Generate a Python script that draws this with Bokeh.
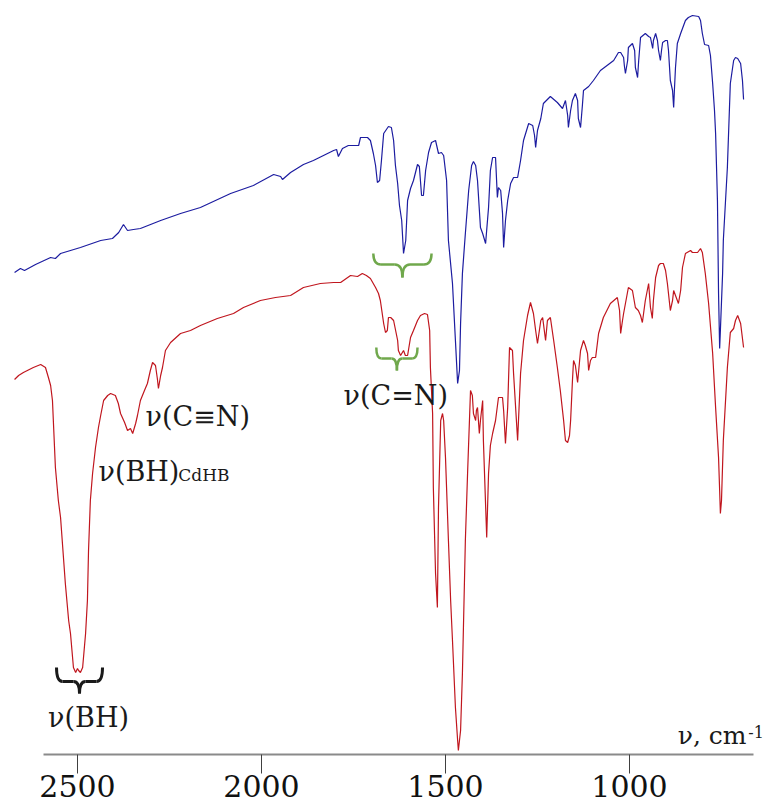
from bokeh.plotting import figure
from bokeh.models import Range1d, LinearAxis, FixedTicker
from bokeh.core.properties import value
from bokeh.embed import file_html
from bokeh.resources import INLINE

# ---- data: IR spectra (wavenumber, cm-1 ; transmittance, arbitrary units) ----
blue_wn = [2671, 2655, 2644, 2614, 2573, 2560, 2546, 2492, 2437, 2405,
           2388, 2375, 2364, 2348, 2329, 2274, 2220, 2166, 2084, 2022,
           1967, 1948, 1943, 1921, 1886, 1859, 1804, 1796, 1791, 1780,
           1764, 1736, 1731, 1712, 1704, 1696, 1690, 1685, 1679, 1674,
           1668, 1655, 1647, 1641, 1636, 1630, 1625, 1619, 1614, 1608,
           1603, 1595, 1587, 1576, 1571, 1565, 1560, 1554, 1546, 1538,
           1527, 1519, 1511, 1505, 1497, 1492, 1481, 1473, 1467, 1462,
           1459, 1454, 1446, 1437, 1429, 1424, 1418, 1413, 1405, 1399,
           1391, 1383, 1378, 1372, 1364, 1359, 1356, 1350, 1345, 1342,
           1337, 1331, 1323, 1315, 1304, 1296, 1288, 1274, 1263, 1258,
           1255, 1250, 1241, 1234, 1215, 1196, 1182, 1174, 1168, 1166,
           1160, 1155, 1147, 1141, 1139, 1133, 1128, 1125, 1111, 1098,
           1079, 1043, 1030, 1024, 1016, 1014, 1011, 1005, 1003, 992,
           986, 984, 978, 975, 970, 957, 948, 943, 937, 935,
           929, 924, 921, 916, 913, 910, 902, 897, 894, 889,
           883, 880, 878, 875, 870, 861, 848, 840, 829, 812,
           807, 802, 796, 785, 780, 774, 769, 766, 761, 758,
           755, 753, 747, 745, 739, 734, 726, 717, 712, 706,
           698, 693, 690]
blue_t = [482, 486, 484, 490, 497, 496, 501, 507, 514, 516,
          522, 530, 524, 525, 526, 534, 541, 547, 561, 569,
          580, 578, 575, 582, 590, 594, 604, 605, 598, 606,
          609, 609, 617, 617, 614, 601, 589, 572, 574, 594,
          621, 628, 627, 614, 589, 571, 549, 534, 501, 514,
          554, 566, 574, 590, 588, 559, 559, 584, 602, 612,
          614, 601, 602, 599, 574, 514, 471, 414, 371, 384,
          431, 481, 521, 564, 589, 593, 589, 574, 527, 521,
          511, 547, 584, 597, 597, 557, 567, 564, 541, 507,
          534, 554, 571, 577, 577, 594, 614, 631, 629, 619,
          607, 624, 636, 651, 658, 652, 646, 654, 639, 627,
          644, 654, 661, 654, 636, 627, 649, 664, 668, 674,
          684, 694, 702, 702, 697, 689, 681, 694, 707, 711,
          704, 687, 677, 694, 717, 721, 718, 717, 706, 714,
          721, 714, 704, 694, 704, 712, 714, 714, 704, 674,
          664, 647, 664, 687, 711, 721, 734, 737, 739, 738,
          734, 721, 710, 709, 699, 671, 644, 621, 554, 461,
          406, 424, 481, 514, 554, 587, 671, 694, 697, 696,
          691, 674, 655]

red_wn = [2671, 2660, 2647, 2620, 2600, 2587, 2579, 2573, 2568, 2560,
          2552, 2546, 2533, 2524, 2519, 2511, 2505, 2500, 2497, 2492,
          2486, 2478, 2473, 2470, 2465, 2459, 2451, 2443, 2437, 2429,
          2418, 2410, 2397, 2389, 2383, 2372, 2364, 2356, 2350, 2342,
          2337, 2329, 2318, 2310, 2302, 2296, 2288, 2283, 2280, 2274,
          2269, 2261, 2247, 2220, 2193, 2166, 2120, 2076, 2049, 2003,
          1962, 1921, 1886, 1840, 1804, 1785, 1758, 1739, 1726, 1715,
          1704, 1690, 1682, 1677, 1668, 1663, 1658, 1655, 1649, 1641,
          1630, 1628, 1622, 1614, 1609, 1603, 1595, 1587, 1576, 1568,
          1557, 1549, 1543, 1541, 1535, 1533, 1527, 1522, 1519, 1513,
          1508, 1505, 1500, 1492, 1486, 1481, 1473, 1467, 1465, 1459,
          1454, 1446, 1440, 1432, 1427, 1424, 1418, 1416, 1413, 1408,
          1405, 1399, 1397, 1388, 1383, 1378, 1372, 1364, 1356, 1345,
          1342, 1337, 1331, 1326, 1318, 1315, 1304, 1296, 1288, 1277,
          1269, 1261, 1255, 1250, 1241, 1236, 1228, 1223, 1215, 1206,
          1196, 1188, 1179, 1174, 1168, 1163, 1160, 1155, 1152, 1147,
          1141, 1133, 1125, 1120, 1114, 1111, 1106, 1101, 1092, 1084,
          1071, 1052, 1033, 1027, 1024, 1019, 1016, 1003, 992, 984,
          976, 970, 965, 957, 948, 943, 938, 935, 929, 921,
          916, 908, 902, 897, 889, 883, 880, 875, 870, 867,
          861, 856, 848, 834, 829, 815, 807, 802, 794, 785,
          774, 766, 758, 755, 753, 750, 745, 734, 726, 717,
          712, 706, 698, 690]
red_t = [375, 379, 382, 387, 390, 387, 377, 369, 354, 287,
         254, 237, 171, 134, 121, 87, 82, 86, 84, 82,
         87, 121, 154, 204, 254, 281, 307, 327, 339, 354,
         359, 361, 359, 351, 341, 332, 324, 326, 321, 331,
         339, 354, 364, 371, 384, 392, 389, 376, 366, 379,
         387, 404, 412, 421, 424, 429, 436, 441, 447, 454,
         457, 459, 467, 471, 472, 472, 479, 478, 481, 479,
         476, 467, 461, 454, 431, 422, 424, 437, 437, 434,
         414, 404, 399, 404, 399, 399, 417, 424, 434, 439,
         441, 440, 424, 387, 341, 267, 181, 147, 247, 334,
         341, 334, 297, 214, 154, 114, 47, 14, 4, 24,
         81, 214, 281, 364, 359, 341, 334, 344, 347, 321,
         334, 354, 314, 217, 281, 309, 321, 334, 357, 357,
         344, 311, 347, 407, 404, 381, 314, 381, 414, 439,
         452, 441, 424, 411, 434, 437, 414, 434, 437, 414,
         387, 364, 334, 314, 312, 319, 334, 374, 394, 389,
         372, 404, 414, 409, 401, 384, 394, 397, 397, 421,
         437, 451, 457, 444, 421, 434, 441, 467, 464, 447,
         444, 439, 432, 454, 471, 447, 436, 454, 477, 489,
         491, 491, 484, 471, 444, 454, 464, 459, 454, 451,
         464, 487, 501, 504, 502, 502, 506, 502, 481, 451,
         401, 347, 297, 264, 241, 254, 314, 387, 422, 426,
         434, 439, 431, 407]

tick_values = [2500, 2000, 1500, 1000]

if len(blue_wn) != len(blue_t) or len(red_wn) != len(red_t):
    raise SystemExit("length mismatch %d %d %d %d" % (len(blue_wn), len(blue_t), len(red_wn), len(red_t)))

SERIF = "DejaVu Serif"
TXT = "#1a1a1a"
BLUE = "#1c1ca0"
RED = "#c0161e"
GREEN = "#70a84c"

p = figure(width=766, height=805, output_backend="svg", toolbar_location=None,
           x_range=Range1d(2709.2, 627.7), y_range=Range1d(0, 754),
           x_axis_location=None, y_axis_location=None,
           min_border_left=0, min_border_right=0, min_border_top=0, min_border_bottom=51)
p.outline_line_color = None
p.xgrid.visible = False
p.ygrid.visible = False
p.background_fill_color = "white"
p.border_fill_color = "white"

ax = LinearAxis(ticker=FixedTicker(ticks=tick_values), bounds=(663, 2592))
ax.axis_line_color = "#8a8a8a"
ax.axis_line_width = 2
ax.major_tick_line_color = "#404040"
ax.major_tick_line_width = 1
ax.major_tick_in = 0
ax.major_tick_out = 19
ax.minor_tick_line_color = None
ax.major_label_text_font = SERIF
ax.major_label_text_font_size = "30px"
ax.major_label_text_color = "#111111"
ax.major_label_standoff = 1
p.add_layout(ax, "below")

p.line(blue_wn, blue_t, line_color=BLUE, line_width=1.2)
p.line(red_wn, red_t, line_color=RED, line_width=1.2)


def brace(xl, xr, yt, ym, yp, color, width):
    xm = (xl + xr) / 2.0
    d = (xr - xl) * 0.13
    p.quadratic(x0=[xl, xm - d, xm, xr - d], y0=[yt, ym, yp, ym],
                x1=[xl + d, xm, xm + d, xr], y1=[ym, yp, ym, yt],
                cx=[xl, xm, xm, xr], cy=[ym, ym, ym, ym],
                line_color=color, line_width=width)
    p.segment(x0=[xl + d, xm + d], y0=[ym, ym], x1=[xm - d, xr - d], y1=[ym, ym],
              line_color=color, line_width=width)


brace(2557, 2432, 87, 73, 61, TXT, 3)
brace(1696, 1538, 501, 490, 477, GREEN, 2.5)
brace(1688, 1576, 407, 396, 384, GREEN, 2.5)


def label(x, y, s, size, align="left"):
    p.text(x=[x], y=[y], text=[s], text_font=value(SERIF), text_font_size=size,
           text_align=align, text_baseline="alphabetic", text_color=TXT)


label(2470, 37, "ν(BH)", "27px", "center")
label(2315, 338, "ν(C≡N)", "27px")
label(2443, 283, "ν(BH)", "27px")
label(2226, 280, "CdHB", "17px")
label(1777, 359, "ν(C=N)", "27px")
label(869, 19, "ν, cm", "25px")
label(677, 23, "-1", "16px")

open("out.html", "w").write(file_html(p, INLINE))
